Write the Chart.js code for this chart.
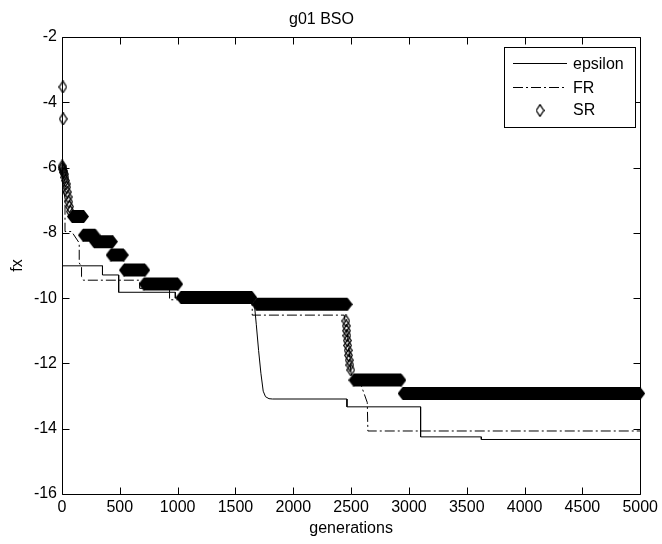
<!DOCTYPE html>
<html><head><meta charset="utf-8">
<script src="https://cdn.jsdelivr.net/npm/chart.js@4/dist/chart.umd.min.js"></script>
<style>html,body{margin:0;padding:0;background:#fff}</style>
</head><body>
<canvas id="c" width="662" height="544"></canvas>
<script>
// ---- text ----
const chartTitle = 'g01 BSO';
const xTitle = 'generations';
const yTitle = 'fx';
const seriesNames = ['epsilon', 'FR', 'SR'];
// ---- ticks ----
const xTicks = [0, 500, 1000, 1500, 2000, 2500, 3000, 3500, 4000, 4500, 5000];
const yTicks = [-16, -14, -12, -10, -8, -6, -4, -2];
// ---- epsilon (solid) ----
const epsGen = [0, 350, 350, 490, 490, 980, 980, 1660, 1680, 1700, 1720, 1740, 1760, 1790, 1820, 2464, 2464, 3101, 3101, 3626, 3626, 5000];
const epsVal = [-9.01, -9.01, -9.29, -9.29, -9.82, -9.82, -10.0, -10.05, -10.8, -11.6, -12.3, -12.85, -13.02, -13.08, -13.09, -13.09, -13.33, -13.33, -14.25, -14.25, -14.33, -14.33];
// ---- FR (dash-dot) ----
const frGen = [0, 26, 26, 83, 149, 149, 169, 169, 184, 671, 671, 930, 930, 1645, 1645, 2440, 2470, 2500, 2530, 2580, 2640, 2645, 5000];
const frVal = [-6.6, -6.9, -7.96, -7.96, -8.31, -8.92, -9.04, -9.34, -9.45, -9.45, -9.7, -9.7, -10.05, -10.05, -10.52, -10.52, -11.2, -12.3, -12.6, -12.6, -13.2, -14.07, -14.07];
// ---- SR: individual diamonds ----
const srGen = [8, 10, 2, 5, 8, 12, 16, 20, 25, 30, 35, 40, 45, 52, 58, 65, 72,
               2455, 2458, 2461, 2464, 2467, 2470, 2474, 2478, 2483, 2490, 2498];
const srVal = [-3.53, -4.51, -5.95, -6.0, -6.05, -6.1, -6.15, -6.2, -6.3, -6.4, -6.5, -6.6, -6.75, -6.9, -7.05, -7.2, -7.35,
               -10.7, -10.85, -11.0, -11.15, -11.3, -11.45, -11.6, -11.75, -11.9, -12.05, -12.2];
// ---- SR: dense plateaus (runs of overlapping diamonds) ----
const srRunStart = [85, 180, 275, 420, 535, 705, 1025, 1680, 2520, 2945];
const srRunEnd   = [190, 290, 440, 535, 720, 1005, 1645, 2470, 2935, 5000];
const srRunVal   = [-7.5, -8.07, -8.27, -8.68, -9.14, -9.57, -9.98, -10.19, -12.51, -12.92];

function diamond(w, h, filled) {
  const c = document.createElement('canvas');
  c.width = w; c.height = h;
  const g = c.getContext('2d');
  g.beginPath();
  if (filled) {
    g.moveTo(w / 2, 0); g.lineTo(w, h / 2); g.lineTo(w / 2, h); g.lineTo(0, h / 2);
    g.closePath(); g.fillStyle = '#000'; g.fill();
  } else {
    g.moveTo(w / 2, 0.7); g.lineTo(w - 0.7, h / 2); g.lineTo(w / 2, h - 0.7); g.lineTo(0.7, h / 2);
    g.closePath(); g.strokeStyle = '#000'; g.lineWidth = 1.3; g.stroke();
  }
  return c;
}
const hollowD = diamond(9, 13, false);
const filledD = diamond(10, 13, true);

const pts = (xs, ys) => xs.map((x, i) => ({x: x, y: ys[i]}));
const runPts = [];
srRunStart.forEach((s, i) => {
  runPts.push({x: s, y: srRunVal[i]});
  runPts.push({x: srRunEnd[i], y: srRunVal[i]});
  runPts.push({x: srRunEnd[i] + 0.5, y: null});
});

const FONT = '"Liberation Sans", Arial, sans-serif';

const boxPlugin = {
  id: 'matlabBox',
  afterDatasetsDraw(chart) {
    const {ctx, chartArea: a, scales} = chart;
    ctx.save();
    ctx.strokeStyle = '#000';
    ctx.lineWidth = 1;
    ctx.beginPath();
    const L = Math.round(a.left) + 0.5, R = Math.round(a.right) + 0.5, T = Math.round(a.top) + 0.5, B = Math.round(a.bottom) + 0.5;
    ctx.rect(L, T, R - L, B - T);
    const tl = 7;
    scales.x.ticks.forEach(t => {
      const px = Math.round(scales.x.getPixelForValue(t.value)) + 0.5;
      ctx.moveTo(px, B); ctx.lineTo(px, B - tl);
      ctx.moveTo(px, T); ctx.lineTo(px, T + tl);
    });
    scales.y.ticks.forEach(t => {
      const py = Math.round(scales.y.getPixelForValue(t.value)) + 0.5;
      ctx.moveTo(L, py); ctx.lineTo(L + tl, py);
      ctx.moveTo(R, py); ctx.lineTo(R - tl, py);
    });
    ctx.stroke();
    // legend box
    const bx = 504.5, by = 47.5, bw = 131, bh = 80;
    ctx.fillStyle = '#fff';
    ctx.fillRect(bx, by, bw, bh);
    ctx.strokeRect(bx, by, bw, bh);
    const rows = [63.5, 87.5, 110];
    ctx.font = '16px ' + FONT;
    ctx.fillStyle = '#000';
    ctx.textBaseline = 'middle';
    ctx.textAlign = 'left';
    ctx.beginPath(); ctx.setLineDash([]);
    ctx.moveTo(513, rows[0]); ctx.lineTo(567, rows[0]); ctx.stroke();
    ctx.beginPath(); ctx.setLineDash([10, 3, 2, 3]);
    ctx.moveTo(513, rows[1]); ctx.lineTo(567, rows[1]); ctx.stroke();
    ctx.setLineDash([]);
    ctx.drawImage(hollowD, 540 - 4.5, Math.round(rows[2] - 6.5));
    seriesNames.forEach((n, i) => ctx.fillText(n, 573, rows[i] + 1));
    ctx.restore();
  }
};

new Chart(document.getElementById('c'), {
  type: 'line',
  data: {
    datasets: [
      {label: seriesNames[2] + ' run', data: runPts, borderColor: '#000', borderWidth: 13, borderCapStyle: 'butt', borderJoinStyle: 'miter',
       pointStyle: filledD, pointRadius: 6, spanGaps: false, order: 0, tension: 0, clip: 8},
      {label: seriesNames[2], data: pts(srGen, srVal), showLine: false, pointStyle: hollowD, pointRadius: 6, order: 1, clip: 8},
      {label: seriesNames[1], data: pts(frGen, frVal), borderColor: '#000', borderWidth: 1, borderDash: [10, 3, 2, 3], pointRadius: 0, order: 2, tension: 0},
      {label: seriesNames[0], data: pts(epsGen, epsVal), borderColor: '#000', borderWidth: 1, pointRadius: 0, order: 3, tension: 0}
    ]
  },
  options: {
    responsive: false,
    animation: false,
    events: [],
    layout: {padding: {left: 0, right: 19, top: 0, bottom: 0}},
    plugins: {
      legend: {display: false},
      tooltip: {enabled: false},
      title: {display: true, text: chartTitle, color: '#000', font: {family: FONT, size: 16, weight: 'normal'}, padding: {top: 10, bottom: 7.8}}
    },
    scales: {
      x: {
        type: 'linear', min: 0, max: 5000,
        afterBuildTicks: s => { s.ticks = xTicks.map(v => ({value: v})); },
        afterFit: s => { s.height = 50; },
        grid: {display: false, drawTicks: false},
        border: {display: false},
        ticks: {color: '#000', padding: 4, maxRotation: 0, autoSkip: false, font: {family: FONT, size: 16}, callback: v => String(v)},
        title: {display: true, text: xTitle, color: '#000', font: {family: FONT, size: 16}, padding: {top: 0, bottom: 6}}
      },
      y: {
        type: 'linear', min: -16, max: -2,
        afterBuildTicks: s => { s.ticks = yTicks.map(v => ({value: v})); },
        afterFit: s => { s.width = 62; },
        grid: {display: false, drawTicks: false},
        border: {display: false},
        ticks: {color: '#000', padding: 5, autoSkip: false, font: {family: FONT, size: 16}, callback: v => String(v)},
        title: {display: true, text: yTitle, color: '#000', font: {family: FONT, size: 16}, padding: {top: 8, bottom: 0}}
      }
    }
  },
  plugins: [boxPlugin]
});
</script>
</body></html>
